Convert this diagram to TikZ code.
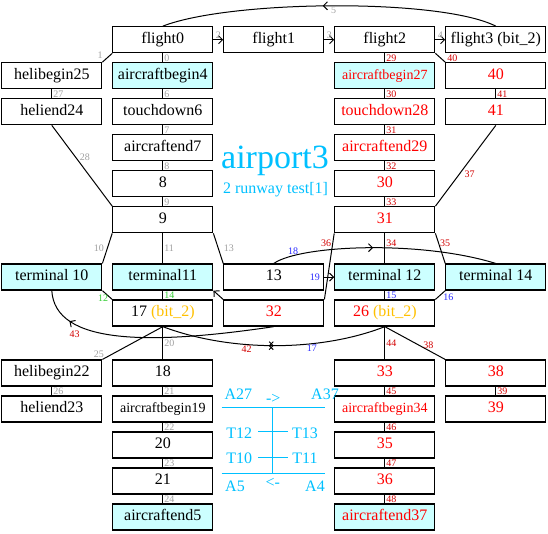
\documentclass[tikz,border=0pt]{standalone}
\usepackage{fontspec}
\setmainfont{Liberation Serif}
\usetikzlibrary{matrix,arrows,arrows.meta,decorations.markings}

\definecolor{sky}{RGB}{0,192,255}
\definecolor{pale}{RGB}{204,255,255}
\definecolor{bitc}{RGB}{255,192,0}
\definecolor{lgray}{RGB}{160,160,160}
\definecolor{lred}{RGB}{210,0,0}
\definecolor{lgreen}{RGB}{51,204,51}
\definecolor{lblue}{RGB}{40,40,255}
\newcommand{\bitt}[1]{{\color{bitc}#1}}

\begin{document}
\begin{tikzpicture}[x=1pt, y=-1pt, >={Straight Barb[length=4pt, width=8pt]},
  st/.style={draw, line width=1.2pt, minimum width=100pt, minimum height=26pt,
    text height=11pt, text depth=4pt, inner sep=2pt, font=\fontsize{16}{18}\selectfont},
  cy/.style={fill=pale}, rd/.style={text=red},
  sm/.style={font=\fontsize{14}{16}\selectfont},
  lb/.style={font=\fontsize{10}{10}\selectfont, inner sep=1pt},
  g/.style={lb, text=lgray}, r/.style={lb, text=lred},
  gr/.style={lb, text=lgreen}, b/.style={lb, text=lblue},
  midarr/.style={postaction={decorate}, decoration={markings,
    mark=at position #1 with {\arrow{>}}}},
  meet/.style={postaction={decorate}, decoration={markings,
    mark=at position .5 with {\arrow{>}\arrow{<}}}},
  leg/.style={text=sky, inner sep=0pt, font=\fontsize{16}{18}\selectfont}]
\useasboundingbox (0,0) rectangle (548,534);

\matrix (m) [matrix of nodes, row sep=8.8pt, column sep=9.8pt, nodes={st}] at (273.8,278.4)
{ & flight0 & flight1 & flight2 & flight3 (bit\_2) \\
  helibegin25 & |[cy]| aircraftbegin4 & & |[cy,rd,sm]| aircraftbegin27 & |[rd]| 40 \\
  heliend24 & touchdown6 & & |[rd]| touchdown28 & |[rd]| 41 \\
  & aircraftend7 & & |[rd]| aircraftend29 & \\
  & 8 & & |[rd]| 30 & \\
  & 9 & & |[rd]| 31 & \\[21.3pt]
  |[cy]| terminal 10 & |[cy]| terminal11 & 13 & |[cy]| terminal 12 & |[cy]| terminal 14 \\
  & 17 \bitt{(bit\_2)} & |[rd]| 32 & |[rd]| 26 \bitt{(bit\_2)} & \\[24pt]
  helibegin22 & 18 & & |[rd]| 33 & |[rd]| 38 \\
  heliend23 & |[sm]| aircraftbegin19 & & |[rd,sm]| aircraftbegin34 & |[rd]| 39 \\
  & 20 & & |[rd]| 35 & \\
  & 21 & & |[rd]| 36 & \\
  & |[cy]| aircraftend5 & & |[cy,rd]| aircraftend37 & \\};

% left part
\path[line width=1pt]
(m-1-2.south west) edge node[g, left=6pt, pos=.2] {1} (m-2-1.north east)
(m-1-2) edge node[g, right] {0} (m-2-2)
(m-1-2) edge[->] node[g, above] {2} (m-1-3)
(m-1-3) edge[->] node[g, above] {3} (m-1-4)
(m-1-4) edge[->] node[g, above] {4} (m-1-5)
(m-2-1) edge node[g, right] {27} (m-3-1)
(m-2-2) edge node[g, right] {6} (m-3-2)
(m-3-2) edge node[g, right] {7} (m-4-2)
(m-4-2) edge node[g, right] {8} (m-5-2)
(m-5-2) edge node[g, right] {9} (m-6-2)
(m-3-1.south) edge node[g, right=3pt, pos=.39] {28} (m-6-2.north west)
(m-6-2.south west) edge node[g, left=2pt] {10} (m-7-1.north east)
(m-6-2) edge node[g, right] {11} (m-7-2)
(m-6-2.south east) edge node[g, right=4pt] {13} (m-7-3.north west)
(m-7-1.south east) edge node[gr, left=1.5pt, pos=.9] {12} (m-8-2.north west)
(m-7-2) edge node[gr, right] {14} (m-8-2)
(m-8-3.north west) edge[->] (m-7-2.south east)
(m-8-2.south) edge node[g, left=6pt, pos=.85] {25} (m-9-1.north east)
(m-8-2) edge node[g, right] {20} (m-9-2)
(m-9-2) edge node[g, right] {21} (m-10-2)
(m-10-2) edge node[g, right] {22} (m-11-2)
(m-11-2) edge node[g, right] {23} (m-12-2)
(m-12-2) edge node[g, right] {24} (m-13-2)
(m-9-1) edge node[g, right] {26} (m-10-1);

% right part
\path[line width=1pt]
(m-1-4) edge node[r, right] {29} (m-2-4)
(m-2-4) edge node[r, right] {30} (m-3-4)
(m-3-4) edge node[r, right] {31} (m-4-4)
(m-4-4) edge node[r, right] {32} (m-5-4)
(m-5-4) edge node[r, right] {33} (m-6-4)
(m-1-4.south east) edge node[r, right=5pt, pos=.55] {40} (m-2-5.north west)
(m-2-5) edge node[r, right] {41} (m-3-5)
(m-3-5.south) edge node[r, right=3.5pt, pos=.6] {37} (m-6-4.north east)
(m-6-4) edge node[r, right, pos=.33] {34} (m-7-4)
(m-6-4.south west) edge node[r, left, pos=.15] {36} (m-8-3.north east)
(m-6-4.south east) edge node[r, right, pos=.33] {35} (m-7-5.north west)
(m-7-3) edge[->] node[b, left=3pt, pos=0] {19} (m-7-4)
(m-7-4) edge node[b, right] {15} (m-8-4)
(m-7-5.south west) edge node[b, right=4.5pt, pos=.8] {16} (m-8-4.north east)
(m-8-4) edge node[r, right] {44} (m-9-4)
(m-9-4) edge node[r, right] {45} (m-10-4)
(m-10-4) edge node[r, right] {46} (m-11-4)
(m-11-4) edge node[r, right] {47} (m-12-4)
(m-12-4) edge node[r, right] {48} (m-13-4)
(m-8-4.south) edge node[r, above, pos=.72] {38} (m-9-5.north west)
(m-9-5) edge node[r, right] {39} (m-10-5);

% curved ones
\draw[line width=1pt, midarr=.52] (m-1-5.north) .. controls (440,-2) and (230,0) .. (m-1-2.north)
  node[g, below, pos=.5] {5};
\draw[line width=1pt, midarr=.45] (m-7-3.north) .. controls (300,245) and (420,240) .. (m-7-5.north)
  node[b, above, pos=.16] {18};
\draw[line width=1pt, midarr=.85] (m-8-3.south) .. controls (150,345) and (55,345) .. (m-7-1.south)
  node[r, below=5pt, pos=.72] {43};
\draw[line width=1pt, meet] (m-8-2.south) .. controls (230,352) and (320,352) .. (m-8-4.south)
  node[r, below, pos=.38] {42} node[b, below, pos=.66] {17};

% title
\node[text=sky, font=\fontsize{34}{36}\selectfont, anchor=base] (ttl) at (275,168.3) {airport3};
\node[text=sky, font=\fontsize{16}{18}\selectfont, anchor=base] (sub) at (275.5,193.3) {2 runway test[1]};

% runway legend
\draw[sky, line width=1.2pt] (221.7,407.3) -- (325,407.3) (221.7,473.3) -- (325,473.3)
  (272.7,407.3) -- (272.7,473.3) (258,431.7) -- (288,431.7) (258,457.3) -- (288,457.3);
\node[leg] (a27) at (238.3,394) {A27};
\node[leg] (fwd) at (273.3,399.3) {->};
\node[leg] (a37) at (325,394) {A37};
\node[leg] (t12) at (239.3,433.3) {T12};
\node[leg] (t13) at (305,433.3) {T13};
\node[leg] (t10) at (239.3,458.3) {T10};
\node[leg] (t11) at (305,458.3) {T11};
\node[leg] (a5) at (235,486.7) {A5};
\node[leg] (bwd) at (272.7,483.3) {<-};
\node[leg] (a4) at (315,486.7) {A4};
\end{tikzpicture}
\end{document}
